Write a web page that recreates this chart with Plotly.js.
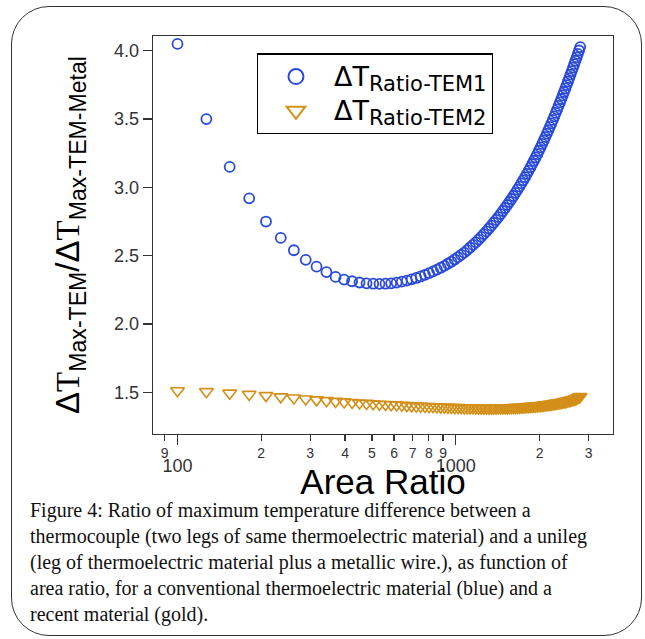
<!DOCTYPE html>
<html><head><meta charset="utf-8">
<script src="https://cdn.plot.ly/plotly-3.0.1.min.js"></script>
<style>
html,body{margin:0;padding:0;background:#fff;}
#wrap{position:relative;width:645px;height:639px;overflow:hidden;}
#chart{width:645px;height:639px;}
#frame{position:absolute;left:11px;top:6px;width:631px;height:630px;border:1.5px solid #333;border-radius:38px;pointer-events:none;box-sizing:border-box;}
</style></head><body>
<div id="wrap"><div id="chart"></div><div id="frame"></div></div>
<script>
const areaRatio = [100,127,154,181,208,235,262,289,316,343,370,397,424,451,478,505,532,559,586,613,640,667,694,721,748,775,802,829,856,883,910,937,964,991,1018,1045,1072,1099,1126,1153,1180,1207,1234,1261,1288,1315,1342,1369,1396,1423,1450,1477,1504,1531,1558,1585,1612,1639,1666,1693,1720,1747,1774,1801,1828,1855,1882,1909,1936,1963,1990,2017,2044,2071,2098,2125,2152,2179,2206,2233,2260,2287,2314,2341,2368,2395,2422,2449,2476,2503,2530,2557,2584,2611,2638,2665,2692,2719,2746,2773,2800];
const ratioTEM1 = [4.05,3.50,3.15,2.92,2.75,2.63,2.54,2.47,2.42,2.38,2.345,2.325,2.313,2.304,2.298,2.295,2.294,2.295,2.298,2.303,2.310,2.318,2.327,2.337,2.348,2.360,2.372,2.385,2.398,2.412,2.426,2.441,2.456,2.472,2.489,2.506,2.523,2.541,2.560,2.579,2.598,2.618,2.638,2.658,2.678,2.699,2.720,2.741,2.762,2.783,2.805,2.827,2.849,2.871,2.893,2.915,2.937,2.960,2.983,3.006,3.029,3.052,3.075,3.099,3.123,3.147,3.171,3.195,3.219,3.243,3.268,3.293,3.318,3.343,3.368,3.393,3.418,3.443,3.469,3.494,3.520,3.545,3.571,3.596,3.622,3.647,3.673,3.698,3.724,3.749,3.775,3.800,3.826,3.851,3.877,3.902,3.927,3.952,3.977,4.002,4.027];
const ratioTEM2 = [1.512,1.505,1.494,1.485,1.476,1.467,1.459,1.451,1.445,1.439,1.434,1.430,1.426,1.422,1.419,1.416,1.413,1.411,1.409,1.407,1.405,1.403,1.401,1.399,1.398,1.396,1.395,1.394,1.393,1.392,1.391,1.390,1.389,1.388,1.388,1.387,1.386,1.386,1.385,1.385,1.385,1.384,1.384,1.384,1.384,1.384,1.384,1.384,1.384,1.385,1.385,1.385,1.386,1.386,1.387,1.387,1.388,1.389,1.389,1.390,1.391,1.392,1.393,1.394,1.395,1.396,1.397,1.398,1.399,1.400,1.402,1.403,1.404,1.406,1.407,1.409,1.410,1.412,1.413,1.415,1.417,1.419,1.420,1.422,1.424,1.426,1.428,1.430,1.432,1.434,1.437,1.439,1.441,1.444,1.446,1.449,1.452,1.456,1.460,1.465,1.470];

const seriesNames = ['<span style="font-size:27px">ΔT</span><sub><span style="font-size:21px">Ratio-TEM1</span></sub>', '<span style="font-size:27px">ΔT</span><sub><span style="font-size:21px">Ratio-TEM2</span></sub>'];
const xMinorVals = [90,200,300,400,500,600,700,800,900,2000,3000];
const xMinorText = ['9','2','3','4','5','6','7','8','9','2','3'];
const xMajorVals = [100,1000];
const xMajorText = ['100','1000'];
const yTickVals = [1.5,2.0,2.5,3.0,3.5,4.0];
const xTitle = 'Area Ratio';
const yTitle = 'Δ<span style="font-family:Liberation Serif">T</span><sub>Max-TEM</sub>/Δ<span style="font-family:Liberation Serif">T</span><sub>Max-TEM-Metal</sub>';
const caption = 'Figure 4: Ratio of maximum temperature difference between a<br>thermocouple (two legs of same thermoelectric material) and a unileg<br>(leg of thermoelectric material plus a metallic wire.), as function of<br>area ratio, for a conventional thermoelectric material (blue) and a<br>recent material (gold).';

const blue = '#2a4ad8';
const gold = '#d38f18';
const axisCol = '#333';

const traces = [
  {x: areaRatio, y: ratioTEM1, type: 'scatter', mode: 'markers', showlegend: false,
   marker: {symbol: 'circle-open', size: 10, color: blue, line: {width: 1.8}}},
  {x: areaRatio, y: ratioTEM2, type: 'scatter', mode: 'markers', showlegend: false,
   marker: {symbol: 'triangle-down-open', size: 12, color: gold, line: {width: 1.6}}},
  {x: [null], y: [null], type: 'scatter', mode: 'markers', name: seriesNames[0], xaxis: 'x2',
   marker: {symbol: 'circle-open', size: 15, color: blue, line: {width: 2}}},
  {x: [null], y: [null], type: 'scatter', mode: 'markers', name: seriesNames[1], xaxis: 'x2',
   marker: {symbol: 'triangle-down-open', size: 17, color: gold, line: {width: 2}}}
];

const xRange = [1.912, 3.565];
const layout = {
  width: 645, height: 639,
  paper_bgcolor: '#fff', plot_bgcolor: '#fff',
  margin: {l: 153, r: 32, t: 36, b: 205},
  font: {family: 'Liberation Sans, Arial, sans-serif', color: '#000'},
  xaxis: {
    type: 'log', range: xRange, tickmode: 'array', tickvals: xMinorVals, ticktext: xMinorText,
    tickangle: 0,
    ticks: 'outside', ticklen: 6, tickwidth: 1.2, tickcolor: axisCol,
    showline: true, linecolor: axisCol, linewidth: 1.3, mirror: true,
    showgrid: false, zeroline: false,
    tickfont: {size: 14, color: axisCol},
    title: {text: xTitle, font: {size: 35, color: '#000'}, standoff: 9}
  },
  xaxis2: {
    type: 'log', range: xRange, overlaying: 'x', anchor: 'y', side: 'bottom',
    tickmode: 'array', tickvals: xMajorVals, ticktext: xMajorText, tickangle: 0,
    ticks: 'outside', ticklen: 10, tickwidth: 1.2, tickcolor: axisCol,
    tickfont: {size: 18, color: axisCol}, ticklabelstandoff: 5,
    showticklabels: true, showline: false, showgrid: false, zeroline: false
  },
  yaxis: {
    range: [1.195, 4.108], tickmode: 'array', tickvals: yTickVals, tickformat: '.1f',
    ticks: 'outside', ticklen: 9, tickwidth: 1.2, tickcolor: axisCol,
    showline: true, linecolor: axisCol, linewidth: 1.3, mirror: true,
    showgrid: false, zeroline: false,
    tickfont: {size: 18, color: axisCol},
    title: {text: yTitle, font: {size: 33, color: '#000'}, standoff: 24}
  },
  legend: {
    x: 0.2256, y: 0.9565, xanchor: 'left', yanchor: 'top',
    bordercolor: '#000', borderwidth: 1.2, bgcolor: '#fff',
    font: {family: 'DejaVu Sans, sans-serif', size: 24, color: '#000'}, itemwidth: 66, tracegroupgap: 0
  },
  annotations: [{
    text: caption, xref: 'paper', yref: 'paper', x: -0.2724, y: -0.158,
    xanchor: 'left', yanchor: 'top', align: 'left', showarrow: false,
    font: {family: 'Liberation Serif, Times New Roman, serif', size: 20, color: '#111'}
  }]
};

Plotly.newPlot('chart', traces, layout, {displayModeBar: false, staticPlot: true});
</script>
</body></html>
